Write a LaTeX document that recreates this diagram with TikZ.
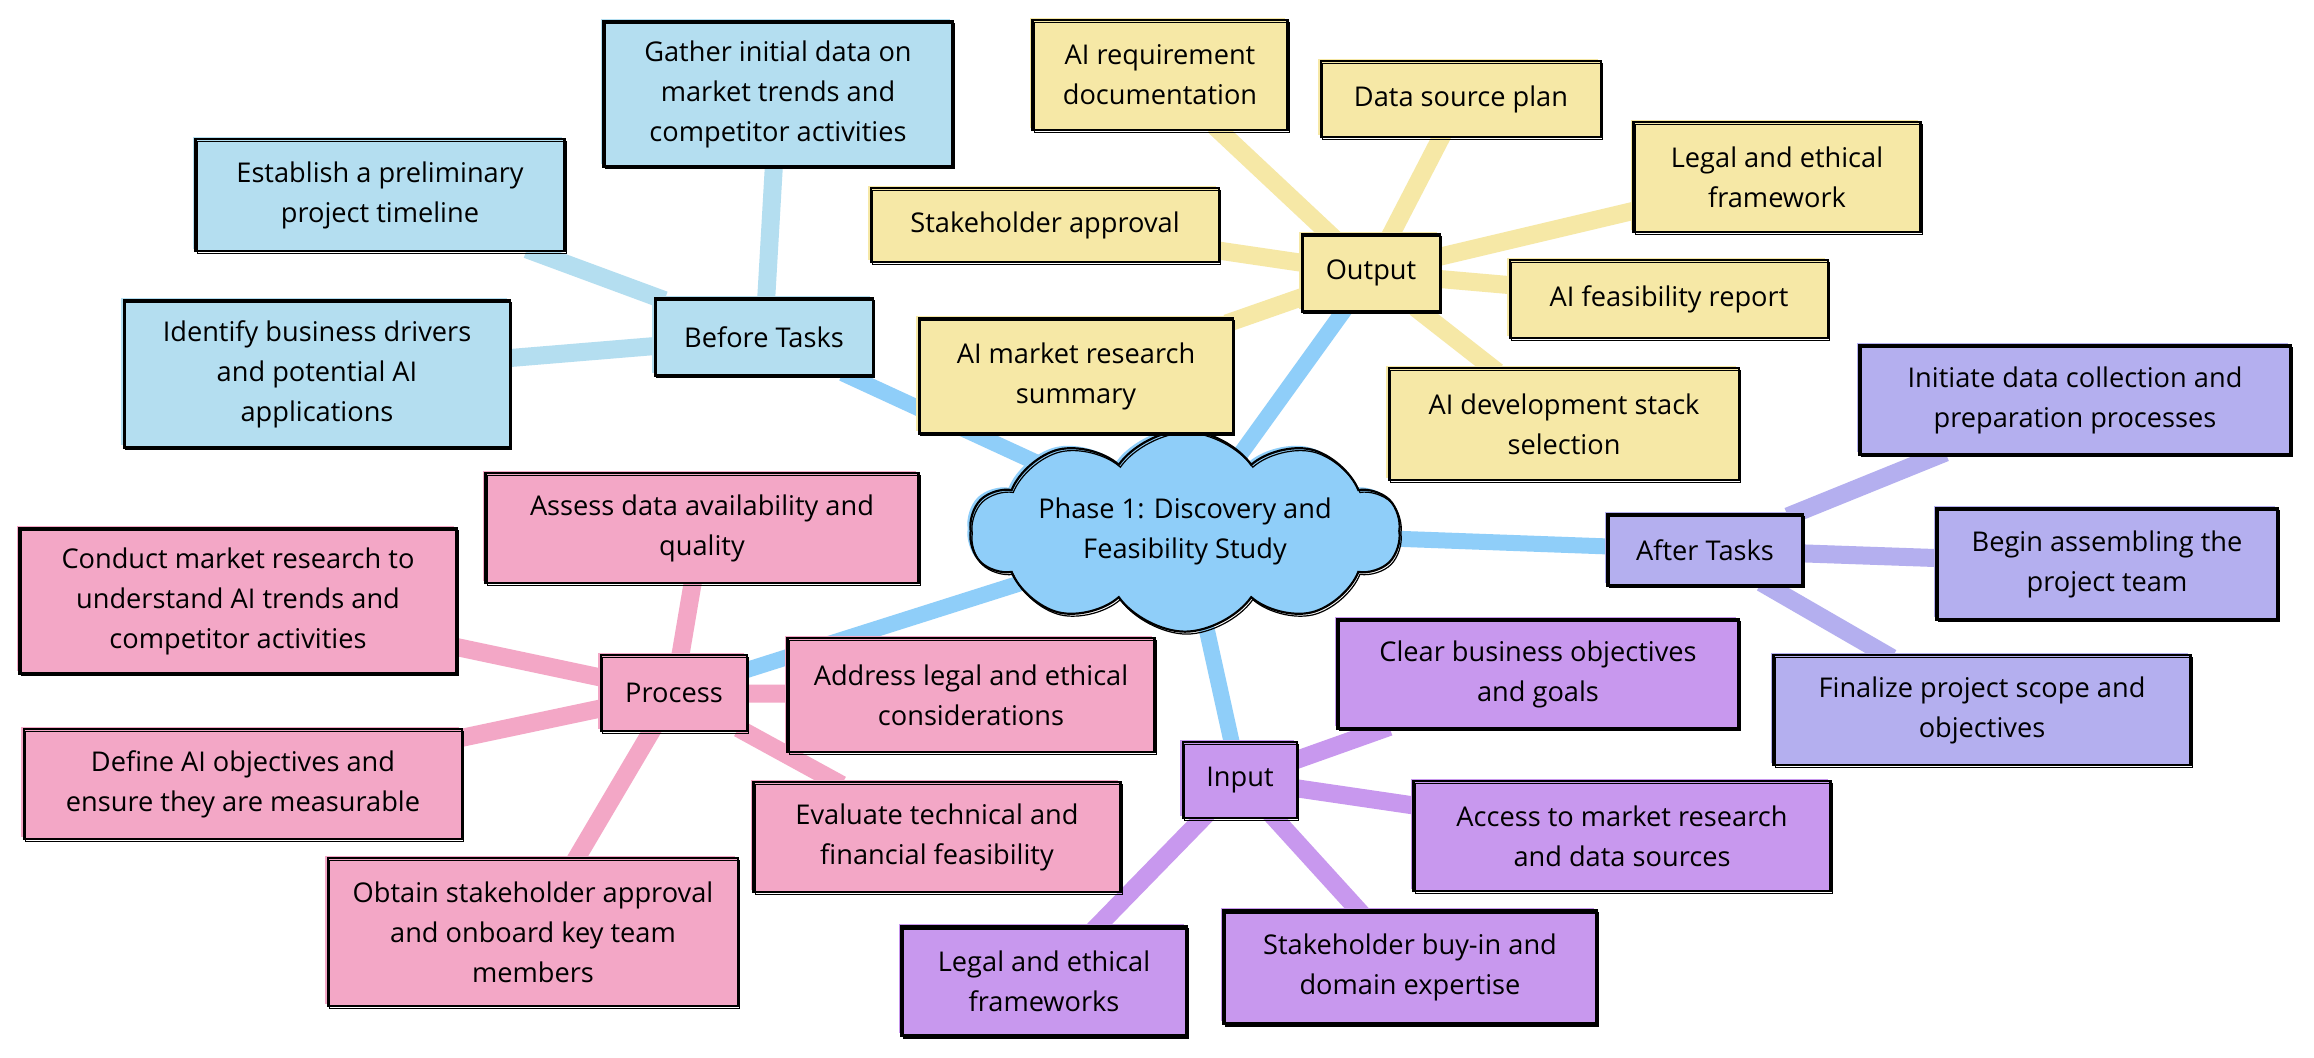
\documentclass[tikz,border=0pt]{standalone}
\usepackage{fontspec}
\setmainfont{Open Sans}
\usetikzlibrary{shapes.symbols,backgrounds}
\definecolor{cloudblue}{HTML}{8FCEF9}
\definecolor{bluebox}{HTML}{B4DEF0}
\definecolor{yellowbox}{HTML}{F6E8A6}
\definecolor{lavbox}{HTML}{B4AFEF}
\definecolor{pinkbox}{HTML}{F3A7C6}
\definecolor{purplebox}{HTML}{C898EE}
\newcommand{\mfnt}{\fontsize{13.6}{20}\selectfont}
\tikzset{
  sz/.style 2 args={minimum width=#1*0.5pt, minimum height=#2*0.5pt},
  box/.style={draw=black, line width=1.1pt, fill=#1, font=\mfnt, align=center, inner sep=0pt,
    preaction={fill=#1, transform canvas={shift={(-1.5pt,1.2pt)}}},
    postaction={draw=black, line width=0.6pt, transform canvas={shift={(0.8pt,-1.2pt)}}}},
  mainline/.style={draw=cloudblue, line width=8pt, shorten <=-4pt, shorten >=-4pt},
  subline/.style={draw=#1, line width=9pt, shorten <=-4pt, shorten >=-4pt}
}
\begin{document}
\begin{tikzpicture}[x=0.5pt,y=-0.5pt]
\useasboundingbox (0,0) rectangle (2314,1058);
% central cloud
\node[box=cloudblue, cloud, cloud puffs=10, cloud puff arc=110, aspect=2.7, inner sep=-4pt, sz={430}{158}] (center) at (1185,531) {Phase 1: Discovery and\\Feasibility Study};
% before tasks
\node[box=bluebox, sz={218}{77}] (before) at (764,337) {Before Tasks};
\node[box=bluebox, sz={349}{145}] (gather) at (778,94) {Gather initial data on\\market trends and\\competitor activities};
\node[box=bluebox, sz={369}{112}] (establish) at (380,195) {Establish a preliminary\\project timeline};
\node[box=bluebox, sz={386}{147}] (identify) at (317,374) {Identify business drivers\\and potential AI\\applications};
% output
\node[box=yellowbox, sz={138}{77}] (output) at (1371,273) {Output};
\node[box=yellowbox, sz={255}{110}] (aireq) at (1160,75) {AI requirement\\documentation};
\node[box=yellowbox, sz={280}{76}] (datasrc) at (1461,99) {Data source plan};
\node[box=yellowbox, sz={287}{110}] (legalfw) at (1777,177) {Legal and ethical\\framework};
\node[box=yellowbox, sz={348}{74}] (stake) at (1045,225) {Stakeholder approval};
\node[box=yellowbox, sz={318}{78}] (feas) at (1669,299) {AI feasibility report};
\node[box=yellowbox, sz={314}{115}] (mrs) at (1076,376) {AI market research\\summary};
\node[box=yellowbox, sz={350}{112}] (stack) at (1564,424) {AI development stack\\selection};
% after tasks
\node[box=lavbox, sz={195}{71}] (after) at (1705,550) {After Tasks};
\node[box=lavbox, sz={431}{109}] (initiate) at (2075,400) {Initiate data collection and\\preparation processes};
\node[box=lavbox, sz={341}{111}] (begin) at (2107,564) {Begin assembling the\\project team};
\node[box=lavbox, sz={417}{110}] (finalize) at (1982,710) {Finalize project scope and\\objectives};
% process
\node[box=pinkbox, sz={146}{76}] (process) at (674,693) {Process};
\node[box=pinkbox, sz={433}{110}] (assess) at (702,528) {Assess data availability and\\quality};
\node[box=pinkbox, sz={437}{145}] (conduct) at (238,601) {Conduct market research to\\understand AI trends and\\competitor activities};
\node[box=pinkbox, sz={438}{110}] (define) at (243,784) {Define AI objectives and\\ensure they are measurable};
\node[box=pinkbox, sz={410}{148}] (obtain) at (533,932) {Obtain stakeholder approval\\and onboard key team\\members};
\node[box=pinkbox, sz={367}{114}] (address) at (971,695) {Address legal and ethical\\considerations};
\node[box=pinkbox, sz={367}{110}] (evaluate) at (937,837) {Evaluate technical and\\financial feasibility};
% input
\node[box=purplebox, sz={114}{76}] (input) at (1240,780) {Input};
\node[box=purplebox, sz={401}{109}] (clear) at (1538,674) {Clear business objectives\\and goals};
\node[box=purplebox, sz={417}{110}] (access) at (1622,836) {Access to market research\\and data sources};
\node[box=purplebox, sz={285}{109}] (legalfws) at (1044,981) {Legal and ethical\\frameworks};
\node[box=purplebox, sz={373}{113}] (buyin) at (1410,967) {Stakeholder buy-in and\\domain expertise};
% connectors
\begin{scope}[on background layer]
\fill[white] (0,0) rectangle (2314,1058);
\draw[mainline] (center) -- (before);
\draw[mainline] (center) -- (output);
\draw[mainline] (center) -- (after);
\draw[mainline] (center) -- (process);
\draw[mainline] (center) -- (input);
\foreach \t in {gather,establish,identify} \draw[subline=bluebox] (before) -- (\t);
\foreach \t in {aireq,datasrc,legalfw,stake,feas,mrs,stack} \draw[subline=yellowbox] (output) -- (\t);
\foreach \t in {initiate,begin,finalize} \draw[subline=lavbox] (after) -- (\t);
\foreach \t in {assess,conduct,define,obtain,address,evaluate} \draw[subline=pinkbox] (process) -- (\t);
\foreach \t in {clear,access,legalfws,buyin} \draw[subline=purplebox] (input) -- (\t);
\end{scope}
\end{tikzpicture}
\end{document}
